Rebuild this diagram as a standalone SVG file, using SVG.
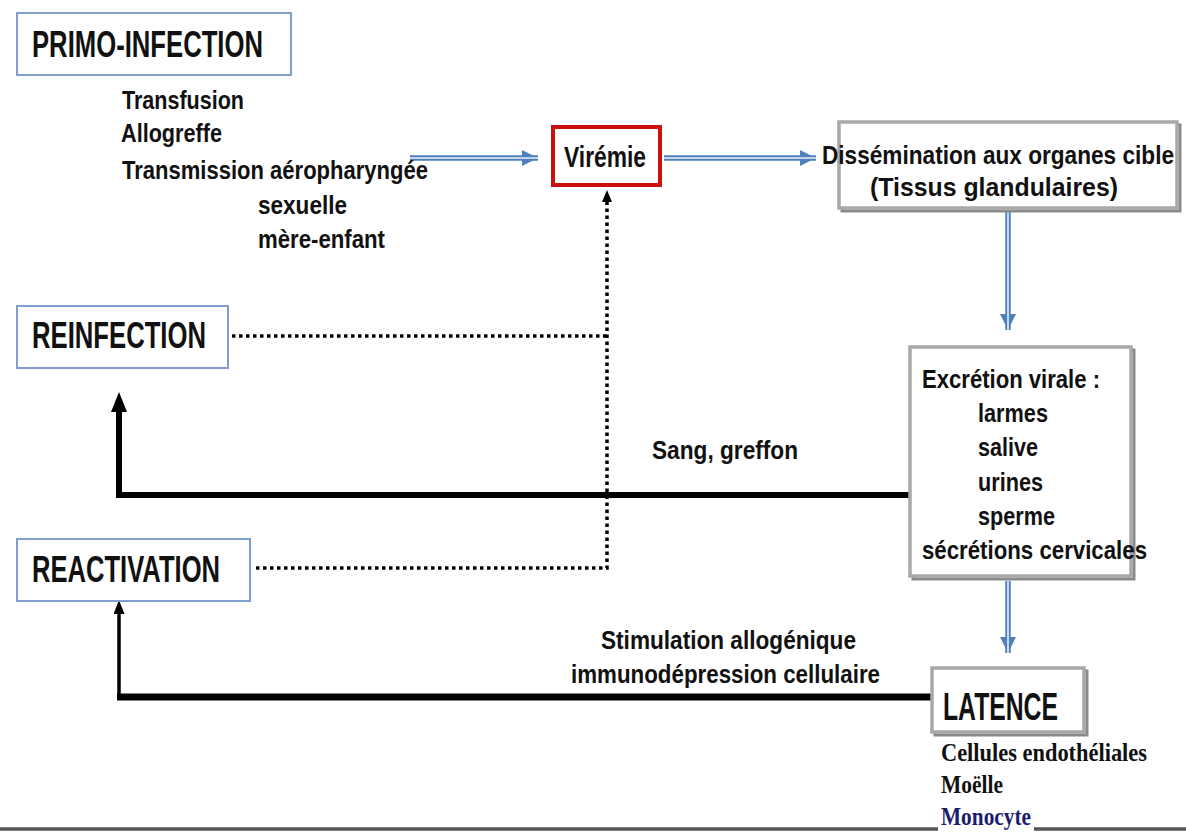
<svg xmlns="http://www.w3.org/2000/svg" width="1186" height="832" viewBox="0 0 1186 832">
<style>
.t{font-family:"Liberation Sans Narrow","Liberation Sans",Arial,sans-serif;font-weight:bold;fill:#111;font-size:26px}
.h{font-size:36px}
.v{font-size:29px}
.l{font-size:39px}
.s{font-family:"Liberation Serif","Times New Roman",serif;font-weight:bold;font-size:25px;fill:#111}
.bb{fill:#fff;stroke:#7f9fd0;stroke-width:2}
.gb{fill:#fff;stroke:#a8a8a8;stroke-width:3.5}
.sh{fill:none;stroke:#8a8a8a;stroke-width:3}
.blue{stroke:#4f81bd;stroke-width:5.5;fill:none}
.bluein{stroke:#e8eef8;stroke-width:1.6;fill:none}
.dot{stroke:#000;stroke-width:3.5;stroke-dasharray:3.5 3.5;fill:none}
.thick{stroke:#000;fill:none}
</style>
<defs>
<marker id="ab" viewBox="0 0 16 16" refX="16" refY="8" markerWidth="16" markerHeight="16" markerUnits="userSpaceOnUse" orient="auto"><path d="M0,0 L16,8 L0,16 Z" fill="#4f81bd"/></marker>
<marker id="ak" viewBox="0 0 12 10" refX="12" refY="5" markerWidth="12" markerHeight="10" markerUnits="userSpaceOnUse" orient="auto"><path d="M0,0 L12,5 L0,10 Z" fill="#000"/></marker>
<marker id="akl" viewBox="0 0 20 16" refX="20" refY="8" markerWidth="20" markerHeight="16" markerUnits="userSpaceOnUse" orient="auto"><path d="M0,0 L20,8 L0,16 Z" fill="#000"/></marker>
<marker id="akm" viewBox="0 0 14 11" refX="14" refY="5.5" markerWidth="14" markerHeight="11" markerUnits="userSpaceOnUse" orient="auto"><path d="M0,0 L14,5.5 L0,11 Z" fill="#000"/></marker>
</defs>

<g id="connectors">
<path class="blue" d="M410 158 H538" marker-end="url(#ab)"/>
<path class="bluein" d="M410 158 H538"/>
<path class="blue" d="M664 158 H816" marker-end="url(#ab)"/>
<path class="bluein" d="M664 158 H816"/>
<path class="blue" d="M1008 211 V330" marker-end="url(#ab)"/>
<path class="bluein" d="M1008 211 V330"/>
<path class="blue" d="M1008 581 V653" marker-end="url(#ab)"/>
<path class="bluein" d="M1008 581 V653"/>
<path class="dot" d="M232 336 H607"/>
<path class="dot" d="M256 568 H607 V200"/>
<path d="M607 202 V190" stroke="none" marker-end="url(#ak)"/>
<path class="thick" stroke-width="6" d="M910 495 H119 V410"/>
<path d="M119 412 V392" stroke="none" marker-end="url(#akl)"/>
<path class="thick" stroke-width="7" d="M931 697 H117"/>
<path class="thick" stroke-width="3.5" d="M119 699 V612"/>
<path d="M119 614 V600" stroke="none" marker-end="url(#akm)"/>
<line x1="0" y1="829" x2="938" y2="829" stroke="#555" stroke-width="3.5"/>
<line x1="1034" y1="829" x2="1186" y2="829" stroke="#555" stroke-width="3.5"/>
</g>

<g id="primo">
<rect class="bb" x="17" y="13" width="274" height="62"/>
<text class="t h" x="32" y="57" textLength="231" lengthAdjust="spacingAndGlyphs">PRIMO-INFECTION</text>
</g>
<g id="sources">
<text class="t" x="122" y="109" textLength="122" lengthAdjust="spacingAndGlyphs">Transfusion</text>
<text class="t" x="121" y="142" textLength="101" lengthAdjust="spacingAndGlyphs">Allogreffe</text>
<text class="t" x="122" y="179" textLength="306" lengthAdjust="spacingAndGlyphs">Transmission aéropharyngée</text>
<text class="t" x="258" y="214" textLength="89" lengthAdjust="spacingAndGlyphs">sexuelle</text>
<text class="t" x="258" y="248" textLength="127" lengthAdjust="spacingAndGlyphs">mère-enfant</text>
</g>
<g id="viremie">
<rect x="553" y="127" width="107" height="58" fill="#fff" stroke="#cc1010" stroke-width="4"/>
<text class="t v" x="564" y="167" textLength="82" lengthAdjust="spacingAndGlyphs">Virémie</text>
</g>
<g id="dissemination">
<rect class="sh" x="842" y="125" width="338" height="86"/>
<rect class="gb" x="839" y="122" width="338" height="86"/>
<text class="t" x="822" y="164" textLength="352" lengthAdjust="spacingAndGlyphs">Dissémination aux organes cible</text>
<text class="t" x="870" y="196" textLength="248" lengthAdjust="spacingAndGlyphs">(Tissus glandulaires)</text>
</g>
<g id="excretion">
<rect class="sh" x="913" y="350" width="221" height="229"/>
<rect class="gb" x="910" y="347" width="221" height="229"/>
<text class="t" x="922" y="388" textLength="178" lengthAdjust="spacingAndGlyphs">Excrétion virale :</text>
<text class="t" x="978" y="422" textLength="70" lengthAdjust="spacingAndGlyphs">larmes</text>
<text class="t" x="978" y="456" textLength="60" lengthAdjust="spacingAndGlyphs">salive</text>
<text class="t" x="978" y="491" textLength="65" lengthAdjust="spacingAndGlyphs">urines</text>
<text class="t" x="978" y="525" textLength="77" lengthAdjust="spacingAndGlyphs">sperme</text>
<text class="t" x="922" y="559" textLength="225" lengthAdjust="spacingAndGlyphs">sécrétions cervicales</text>
</g>
<g id="reinfection">
<rect class="bb" x="17" y="306" width="211" height="62"/>
<text class="t h" x="32" y="348" textLength="174" lengthAdjust="spacingAndGlyphs">REINFECTION</text>
</g>
<g id="reactivation">
<rect class="bb" x="17" y="539" width="233" height="62"/>
<text class="t h" x="32" y="582" textLength="188" lengthAdjust="spacingAndGlyphs">REACTIVATION</text>
</g>
<g id="latence">
<rect class="sh" x="935" y="671" width="152" height="64"/>
<rect class="gb" x="932" y="668" width="152" height="64"/>
<text class="t l" x="943" y="720" textLength="115" lengthAdjust="spacingAndGlyphs">LATENCE</text>
</g>
<g id="labels">
<text class="t" x="652" y="459" textLength="146" lengthAdjust="spacingAndGlyphs">Sang, greffon</text>
<text class="t" x="601" y="649" textLength="255" lengthAdjust="spacingAndGlyphs">Stimulation allogénique</text>
<text class="t" x="571" y="683" textLength="309" lengthAdjust="spacingAndGlyphs">immunodépression cellulaire</text>
<text class="s" x="941" y="761" textLength="206" lengthAdjust="spacingAndGlyphs">Cellules endothéliales</text>
<text class="s" x="941" y="793" textLength="62" lengthAdjust="spacingAndGlyphs">Moëlle</text>
<text class="s" x="941" y="825" style="fill:#1c1c6e" textLength="90" lengthAdjust="spacingAndGlyphs">Monocyte</text>
</g>
</svg>
